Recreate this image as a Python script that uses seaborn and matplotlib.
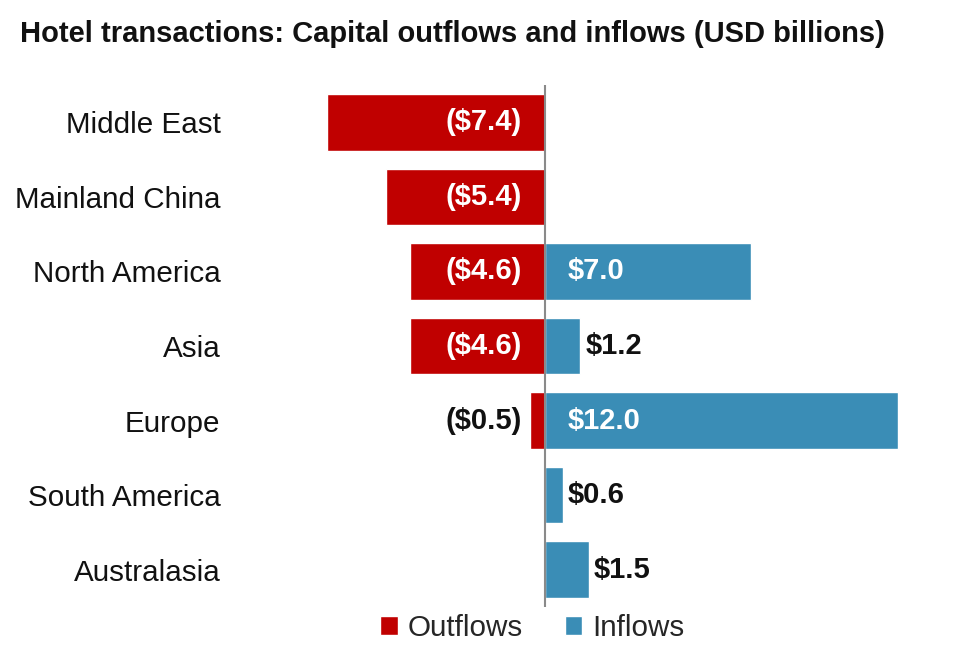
import numpy as np
import pandas as pd
import matplotlib
matplotlib.use("Agg")
import matplotlib.pyplot as plt
import seaborn as sns

# datos (USD billions)
regiones = ["Middle East", "Mainland China", "North America", "Asia",
            "Europe", "South America", "Australasia"]
salidas = [-7.4, -5.4, -4.6, -4.6, -0.5, np.nan, np.nan]
entradas = [np.nan, np.nan, 7.0, 1.2, 12.0, 0.6, 1.5]

rojo = "#C00000"
azul = "#3A8DB6"

df = pd.concat([
    pd.DataFrame({"Region": regiones, "Valor": salidas, "Tipo": "Outflows"}),
    pd.DataFrame({"Region": regiones, "Valor": entradas, "Tipo": "Inflows"}),
], ignore_index=True)

sns.set_style("white")
plt.rcParams["font.family"] = ["Liberation Sans", "DejaVu Sans"]

fig = plt.figure(figsize=(9.6, 6.54), dpi=100)
ax = fig.add_axes([240 / 960, 1 - 607 / 654, 680 / 960, 522 / 654])

sns.barplot(data=df, x="Valor", y="Region", hue="Tipo", order=regiones,
            hue_order=["Outflows", "Inflows"], palette=[rojo, azul],
            dodge=False, width=0.76, saturation=1, orient="h", ax=ax)

ax.set_xlim(-10.37, 12.76)
ax.set_ylim(6.5, -0.5)
ax.axvline(0, color="#8a8a8a", lw=1.5, zorder=5)

for s in ax.spines.values():
    s.set_visible(False)
ax.set_xticks([])
ax.set_xlabel("")
ax.set_ylabel("")
ax.tick_params(axis="y", length=0, pad=14, labelsize=21.3, labelcolor="#111111")

# etiquetas de valores
for i, v in enumerate(salidas):
    if np.isnan(v):
        continue
    txt = f"(${abs(v):.1f})"
    if abs(v) >= 3:
        ax.text(-0.78, i, txt, ha="right", va="center", color="white",
                fontsize=21, fontweight="bold")
    else:
        ax.text(v - 0.27, i, txt, ha="right", va="center", color="#111111",
                fontsize=21, fontweight="bold")
for i, v in enumerate(entradas):
    if np.isnan(v):
        continue
    txt = f"${v:.1f}"
    if v >= 3:
        ax.text(0.78, i, txt, ha="left", va="center", color="white",
                fontsize=21, fontweight="bold")
    else:
        ax.text(v + 0.17, i, txt, ha="left", va="center", color="#111111",
                fontsize=21, fontweight="bold")

ax.legend(loc="center", bbox_to_anchor=(0.43, -0.04), ncol=2, frameon=False,
          fontsize=21.3, handlelength=0.6, handleheight=0.6, handletextpad=0.35,
          columnspacing=1.4, borderaxespad=0)

fig.text(20 / 960, 1 - 34 / 654, "Hotel transactions: Capital outflows and inflows (USD billions)",
         ha="left", va="center", fontsize=21, fontweight="bold", color="#111111")

fig.savefig("out.png", dpi=100)
